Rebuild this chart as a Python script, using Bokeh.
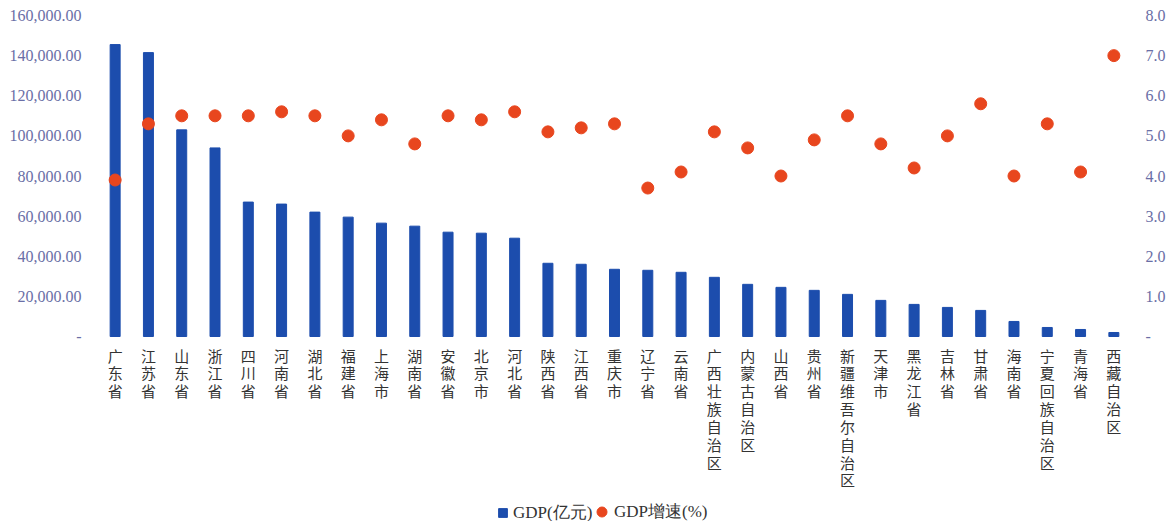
from bokeh.plotting import figure
from bokeh.models import (ColumnDataSource, FactorRange, Range1d, LinearAxis,
                          NumeralTickFormatter, FixedTicker, Legend, LegendItem)
from bokeh.core.properties import value
from bokeh.embed import file_html
from bokeh.resources import INLINE

provinces = ["广东省", "江苏省", "山东省", "浙江省", "四川省", "河南省", "湖北省", "福建省",
             "上海市", "湖南省", "安徽省", "北京市", "河北省", "陕西省", "江西省", "重庆市",
             "辽宁省", "云南省", "广西壮族自治区", "内蒙古自治区", "山西省", "贵州省",
             "新疆维吾尔自治区", "天津市", "黑龙江省", "吉林省", "甘肃省", "海南省",
             "宁夏回族自治区", "青海省", "西藏自治区"]
gdp = [145500, 141500, 103000, 94000, 67000, 66000, 62000, 59500,
       56500, 55000, 52000, 51500, 49000, 36500, 36000, 33500,
       33000, 32000, 29500, 26000, 24500, 23000,
       21000, 18000, 16000, 14500, 13000, 7500,
       4500, 3500, 2000]
growth = [3.9, 5.3, 5.5, 5.5, 5.5, 5.6, 5.5, 5.0,
          5.4, 4.8, 5.5, 5.4, 5.6, 5.1, 5.2, 5.3,
          3.7, 4.1, 5.1, 4.7, 4.0, 4.9,
          5.5, 4.8, 4.2, 5.0, 5.8, 4.0,
          5.3, 4.1, 7.0]
left_ticks = [0, 20000, 40000, 60000, 80000, 100000, 120000, 140000, 160000]
right_ticks = [0, 1, 2, 3, 4, 5, 6, 7, 8]

GDP_MAX = 160000
PCT_MAX = 8
# frame extends below the zero line to hold the vertical category labels and legend
below_frac = 185 / 321

BLUE = "#1C4DAD"
RED = "#E8461E"

src = ColumnDataSource(dict(x=provinces, gdp=gdp, growth=growth,
                            label=["\n".join(n) for n in provinces]))

p = figure(frame_width=1032, frame_height=506, x_range=FactorRange(*provinces),
           y_range=Range1d(-GDP_MAX * below_frac, GDP_MAX),
           output_backend="svg", toolbar_location=None,
           min_border_left=98, min_border_right=0, min_border_top=15,
           min_border_bottom=0)
p.extra_y_ranges = {"pct": Range1d(-PCT_MAX * below_frac, PCT_MAX)}
p.outline_line_color = None
p.xgrid.visible = False
p.ygrid.visible = False
p.x_range.range_padding = 0
p.xaxis.visible = False

bars = p.vbar(x="x", top="gdp", width=0.3, source=src, color=BLUE)
dots = p.scatter(x="x", y="growth", size=12, source=src, color=RED,
                 y_range_name="pct")
p.text(x="x", y=0, text="label", source=src, y_offset=8,
       text_align="center", text_baseline="top",
       text_font=value("Noto Sans CJK SC"), text_font_size="15px",
       text_line_height=0.85, text_color="#333333")

num_font = "Liberation Serif"
lab_col = "#6a6ea6"

ya = p.yaxis[0]
ya.ticker = FixedTicker(ticks=left_ticks)
ya.formatter = NumeralTickFormatter(format="0,0.00")
ya.major_label_overrides = {0: "-"}
ya.axis_line_color = None
ya.major_tick_line_color = None
ya.minor_tick_line_color = None
ya.major_label_text_font = num_font
ya.major_label_text_font_size = "16px"
ya.major_label_text_color = lab_col
ya.major_label_standoff = 11

ra = LinearAxis(y_range_name="pct", ticker=FixedTicker(ticks=right_ticks),
                formatter=NumeralTickFormatter(format="0.0"))
ra.major_label_overrides = {0: "-"}
ra.axis_line_color = None
ra.major_tick_line_color = None
ra.minor_tick_line_color = None
ra.major_label_text_font = num_font
ra.major_label_text_font_size = "16px"
ra.major_label_text_color = lab_col
ra.major_label_standoff = 9
p.add_layout(ra, "right")

leg_style = dict(orientation="horizontal", label_text_font=num_font,
                 label_text_font_size="17px", label_text_color="#333333",
                 border_line_color=None, background_fill_alpha=0,
                 spacing=0, padding=1, margin=0, label_height=17)

legend_bar = Legend(items=[LegendItem(label="GDP(亿元)", renderers=[bars])],
                    location=(399, -3), glyph_width=11, glyph_height=11,
                    label_standoff=5, **leg_style)
legend_dot = Legend(items=[LegendItem(label="GDP增速(%)", renderers=[dots])],
                    location=(491, -3), glyph_width=25, glyph_height=25,
                    label_standoff=0, **leg_style)
p.add_layout(legend_bar, "center")
p.add_layout(legend_dot, "center")

open("out.html", "w").write(file_html(p, INLINE))
